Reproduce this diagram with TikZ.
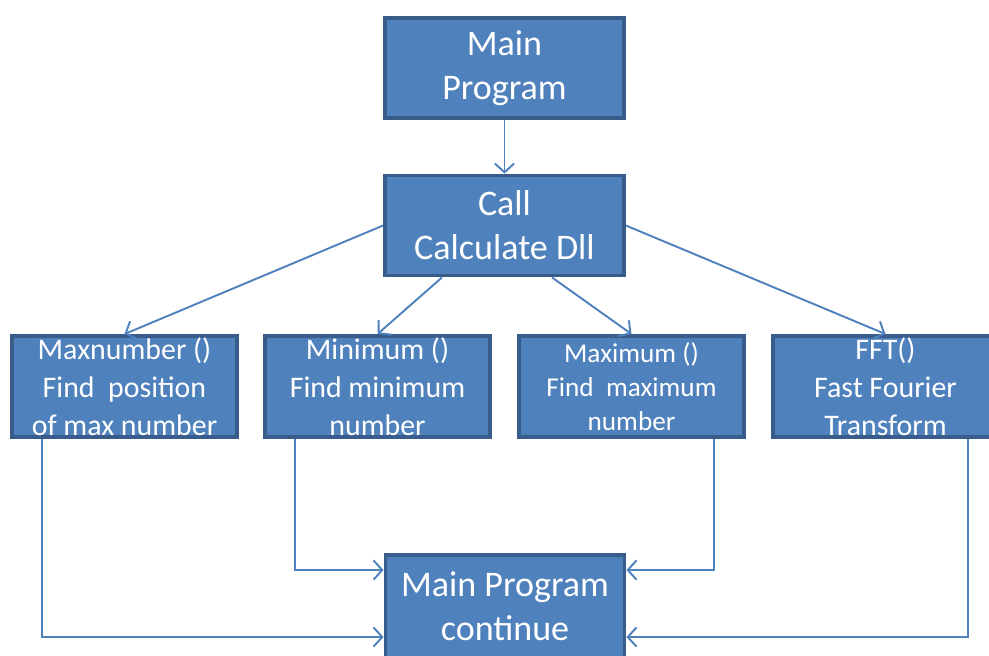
\documentclass[tikz,border=0pt]{standalone}
\usepackage{fontspec}
\setmainfont{Carlito}
\usetikzlibrary{arrows.meta}
\definecolor{boxfill}{HTML}{4F81BD}
\definecolor{boxline}{HTML}{385D8A}
\definecolor{linkcol}{HTML}{4F81BD}
\tikzset{
  block/.style={rectangle, fill=boxfill, draw=boxline, line width=2.2pt,
    text=white, align=center, inner sep=0pt},
  bigblock/.style={block, minimum width=4.78cm, minimum height=2.0cm,
    font=\fontsize{20.5}{25}\selectfont},
  subblock/.style={block, minimum width=4.5cm, minimum height=2.02cm,
    font=\fontsize{17}{21.5}\selectfont},
  link/.style={draw=linkcol, line width=1.1pt, -{Straight Barb[length=5pt,width=11pt]}}
}
\begin{document}
\begin{tikzpicture}
  \path[use as bounding box, clip] (0,0) rectangle (19.78,-13.1);
  \node (main) at (10.09,-1.36) [bigblock] {Main\\Program};
  \node (call) at (10.09,-4.51) [bigblock] {Call\\Calculate Dll};
  \node (maxn) at (2.49,-7.73) [subblock] {Maxnumber ()\\Find\ \ position\\of max number};
  \node (minim) at (7.55,-7.73) [subblock] {Minimum ()\\Find minimum\\number};
  \node (maxim) at (12.63,-7.73) [subblock, font=\fontsize{15.5}{19.5}\selectfont]
    {Maximum ()\\Find\ \ maximum\\number};
  \node (fft) at (17.71,-7.73) [subblock] {FFT()\\Fast Fourier\\Transform};
  \node (cont) at (10.1,-12.13) [bigblock, minimum height=2.06cm] {Main Program\\continue};
  \draw[link] (main.south) -- (call.north);
  \draw[link] (call.west) -- (maxn.north);
  \draw[link] ([xshift=-1.25cm]call.south) -- (minim.north);
  \draw[link] ([xshift=0.95cm]call.south) -- (maxim.north);
  \draw[link] (call.east) -- (fft.north);
  \draw[link] ([xshift=-1.65cm]maxn.south) |- ([yshift=-0.61cm]cont.west);
  \draw[link] ([xshift=-1.65cm]minim.south) |- ([yshift=0.73cm]cont.west);
  \draw[link] ([xshift=1.65cm]maxim.south) |- ([yshift=0.73cm]cont.east);
  \draw[link] ([xshift=1.65cm]fft.south) |- ([yshift=-0.61cm]cont.east);
\end{tikzpicture}
\end{document}
